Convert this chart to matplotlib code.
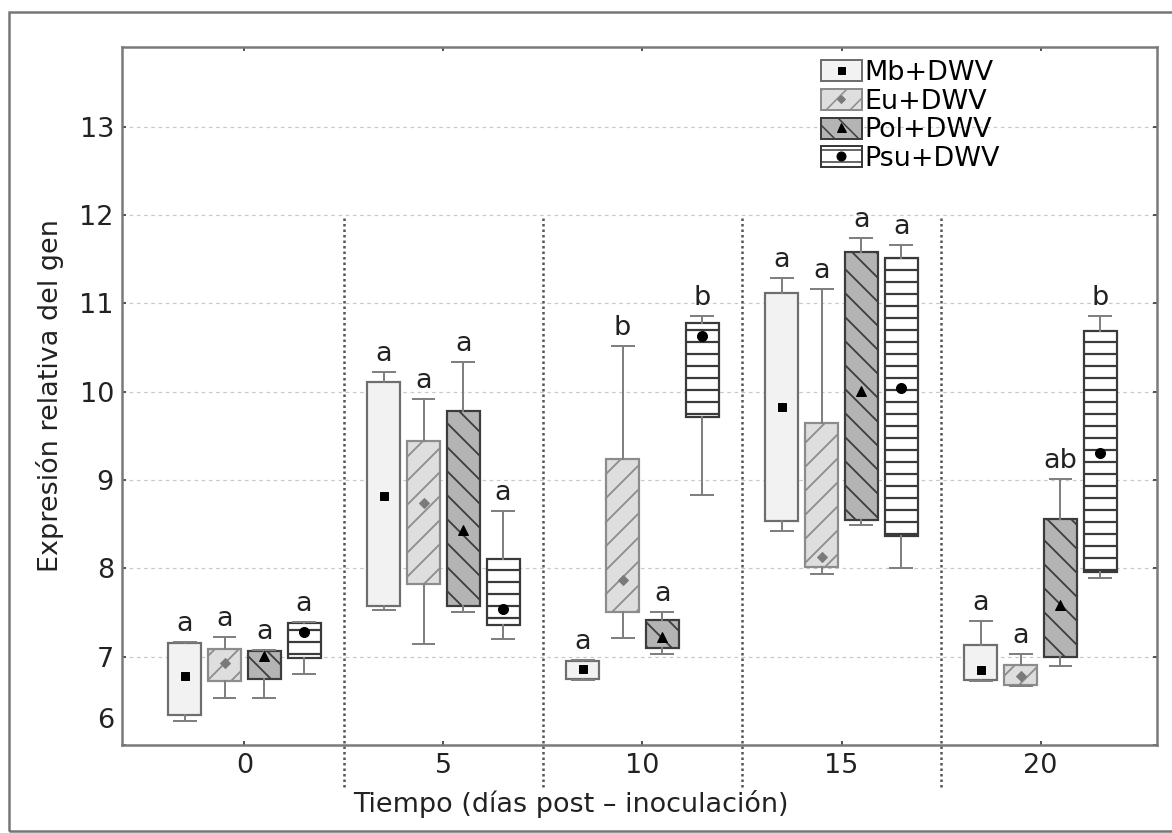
import matplotlib
matplotlib.use("Agg")
import matplotlib.pyplot as plt
from matplotlib.patches import Patch, Rectangle
from matplotlib.lines import Line2D
from matplotlib.legend_handler import HandlerTuple
from matplotlib.transforms import ScaledTranslation

plt.rcParams['font.family'] = ['DejaVu Sans']
plt.rcParams['hatch.linewidth'] = 1.5

dias = ['0', '5', '10', '15', '20']
series = ['Mb+DWV', 'Eu+DWV', 'Pol+DWV', 'Psu+DWV']

# valores: [serie][dia]
q3 = [[7.16, 10.11, 6.95, 11.12, 7.13],
      [7.09, 9.44, 9.24, 9.65, 6.91],
      [7.06, 9.78, 7.42, 11.58, 8.56],
      [7.38, 8.11, 10.78, 11.51, 10.69]]
q1 = [[6.34, 7.57, 6.75, 8.53, 6.74],
      [6.72, 7.82, 7.51, 8.02, 6.68],
      [6.75, 7.57, 7.10, 8.55, 7.00],
      [6.99, 7.36, 9.71, 8.36, 7.96]]
wmax = [[7.17, 10.22, 6.96, 11.28, 7.40],
        [7.22, 9.92, 10.52, 11.16, 7.03],
        [7.07, 10.33, 7.51, 11.74, 9.01],
        [7.39, 8.65, 10.85, 11.66, 10.85]]
wmin = [[6.27, 7.53, 6.74, 8.42, 6.73],
        [6.53, 7.14, 7.21, 7.93, 6.67],
        [6.53, 7.51, 7.03, 8.49, 6.89],
        [6.80, 7.20, 8.83, 8.00, 7.89]]
media = [[6.78, 8.82, 6.86, 9.83, 6.85],
         [6.93, 8.74, 7.87, 8.13, 6.78],
         [7.01, 8.43, 7.22, 10.01, 7.59],
         [7.28, 7.54, 10.63, 10.04, 9.30]]
letras = [['a', 'a', 'a', 'a', 'a'],
          ['a', 'a', 'b', 'a', 'a'],
          ['a', 'a', 'a', 'a', 'ab'],
          ['a', 'a', 'b', 'a', 'b']]

# estilos
fill = ['#f2f2f2', '#dedede', '#b4b4b4', '#ffffff']
edge = ['#6e6e6e', '#8c8c8c', '#3c3c3c', '#3a3a3a']
hatch = [None, '/', '\\', '-']
hatch_lw = [1.0, 1.8, 1.8, 2.2]
mk = ['s', 'D', '^', 'o']
mk_col = ['black', '#7a7a7a', 'black', 'black']
mk_size = [8, 7, 10, 10]
offs = [-0.3, -0.1, 0.1, 0.3]
fs = 27

fig = plt.figure(figsize=(1172 / 72, 833 / 72), dpi=72)
ax = fig.add_axes([122 / 1172, 1 - 745 / 833, 1035 / 1172, 698 / 833])

for s in range(4):
    stats = []
    for d in range(5):
        stats.append(dict(q1=q1[s][d], q3=q3[s][d], whislo=wmin[s][d],
                          whishi=wmax[s][d], med=media[s][d], mean=media[s][d]))
    pos = [d + offs[s] for d in range(5)]
    bp = ax.bxp(stats, positions=pos, widths=0.166, capwidths=0.11,
                patch_artist=True, showmeans=True, showfliers=False,
                boxprops=dict(facecolor=fill[s], edgecolor=edge[s], linewidth=2.2),
                whiskerprops=dict(color='#808080', linewidth=2),
                capprops=dict(color='#808080', linewidth=2),
                medianprops=dict(visible=False),
                meanprops=dict(marker=mk[s], markerfacecolor=mk_col[s],
                               markeredgecolor=mk_col[s], markersize=mk_size[s]),
                zorder=3)
    for b in bp['boxes']:
        if hatch[s]:
            b.set_hatch(hatch[s])
        if hasattr(b, 'set_hatch_linewidth'):
            b.set_hatch_linewidth(hatch_lw[s])
    for d in range(5):
        ax.annotate(letras[s][d], (pos[d], wmax[s][d]), xytext=(0, 5),
                    textcoords='offset points', ha='center', va='bottom',
                    fontsize=fs, color='#222222', zorder=4)

# separadores punteados entre dias
ax.vlines([0.5, 1.5, 2.5, 3.5], 5.52, 12, colors='#555555', linestyles=(0, (1, 1.2)),
          linewidth=2.5, clip_on=False, zorder=2)

ax.set_xlim(-0.615, 4.585)
ax.set_ylim(6, 13.9)
ax.set_xticks(range(5))
ax.set_xticklabels(dias)
ax.set_yticks([6, 7, 8, 9, 10, 11, 12, 13])
ax.yaxis.grid(True, color='#c8c8c8', linestyle=(0, (3, 3)), linewidth=1.2, zorder=0)
ax.set_axisbelow(True)
ax.tick_params(direction='in', length=4, width=2, color='#555555', labelsize=fs,
               labelcolor='#222222', top=True, right=True, pad=8)
# la etiqueta 6 queda un poco arriba
lab6 = ax.get_yticklabels()[0]
lab6.set_transform(lab6.get_transform() + ScaledTranslation(0, 27 / 72, fig.dpi_scale_trans))
for sp in ax.spines.values():
    sp.set_color('#7a7a7a')
    sp.set_linewidth(2.5)

ax.set_ylabel('Expresión relativa del gen', fontsize=fs, color='#222222')
ax.yaxis.set_label_coords(-0.056, 0.5)
ax.set_xlabel('Tiempo (días post – inoculación)', fontsize=fs, color='#222222')
ax.xaxis.set_label_coords(0.434, -0.064)

handles = []
for s in range(4):
    p = Patch(facecolor=fill[s], edgecolor=edge[s], hatch=hatch[s], linewidth=2)
    m = Line2D([], [], marker=mk[s], color=mk_col[s], linestyle='none', markersize=mk_size[s] - 1)
    handles.append((p, m))
fig.legend(handles, series, loc='upper left', bbox_to_anchor=(821 / 1172, 1 - 60 / 833),
           frameon=False, fontsize=fs, handlelength=1.5, handleheight=0.82,
           handletextpad=0.12, labelspacing=0.1, borderpad=0, borderaxespad=0,
           handler_map={tuple: HandlerTuple(ndivide=1)})

fig.patches.append(Rectangle((9 / 1172, 2 / 833), 1.2, 819 / 833, transform=fig.transFigure,
                             fill=False, edgecolor='#777777', linewidth=2.5))

fig.savefig('out.png', dpi=72)
